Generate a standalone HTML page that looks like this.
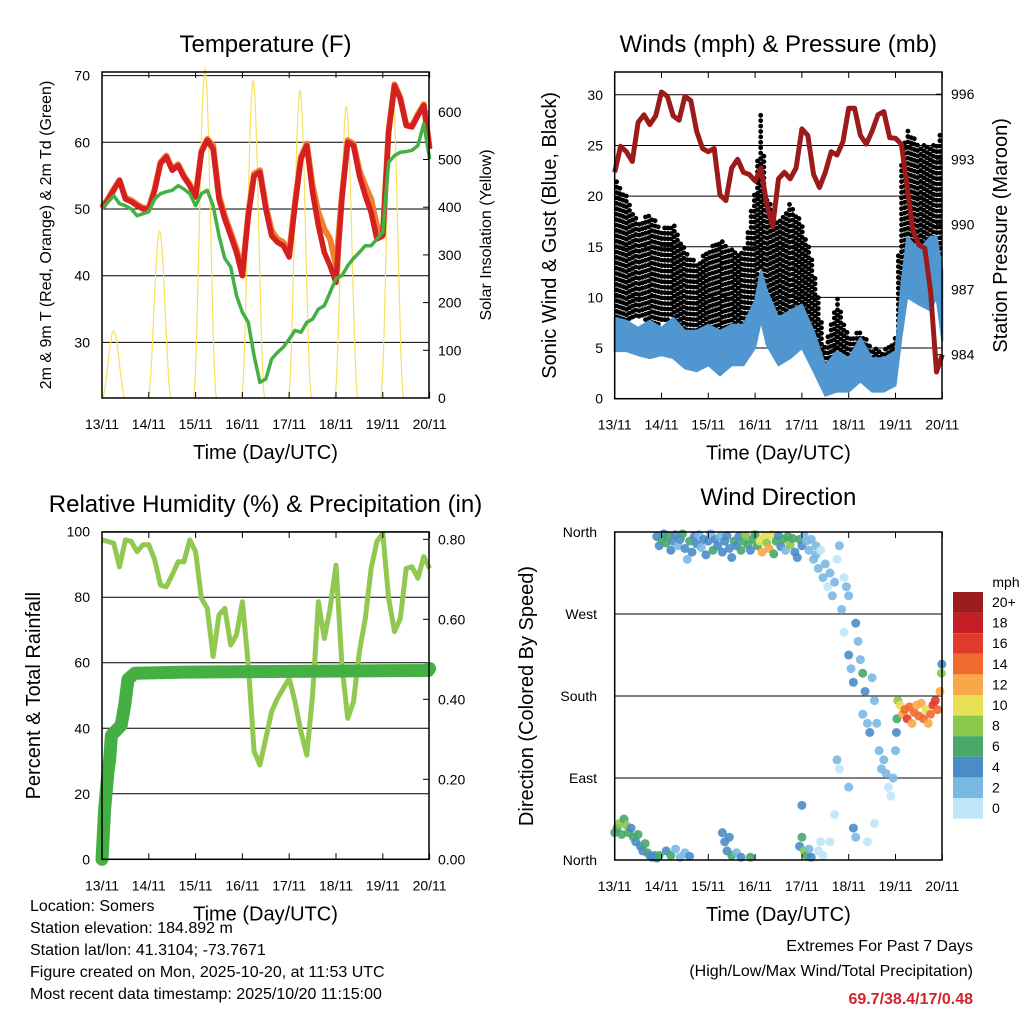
<!DOCTYPE html>
<html><head><meta charset="utf-8"><style>
body{margin:0;background:#fff;}
svg{display:block;font-family:"Liberation Sans",sans-serif;}
</style></head><body>
<svg id="c" width="1024" height="1024" viewBox="0 0 1024 1024">
<g id="g1"></g>
<g id="g2"></g>
<g id="g3"></g>
<g id="g4"></g>
<g font-size="16" fill="#000">
<text x="30" y="911">Location: Somers</text>
<text x="30" y="933">Station elevation: 184.892 m</text>
<text x="30" y="955">Station lat/lon: 41.3104; -73.7671</text>
<text x="30" y="977">Figure created on Mon, 2025-10-20, at 11:53 UTC</text>
<text x="30" y="999">Most recent data timestamp: 2025/10/20 11:15:00</text>
<text x="973" y="951" text-anchor="end">Extremes For Past 7 Days</text>
<text x="973" y="976" text-anchor="end">(High/Low/Max Wind/Total Precipitation)</text>
<text x="973" y="1004" text-anchor="end" font-weight="bold" fill="#d42228">69.7/38.4/17/0.48</text>
</g>
</svg>
<script>
// ---------- DATA ----------
const dayLabels=["13/11","14/11","15/11","16/11","17/11","18/11","19/11","20/11"];
const tempTicks=[30,40,50,60,70];
const solarTicks=[0,100,200,300,400,500,600];
const windTicks=[0,5,10,15,20,25,30];
const presTicks=[984,987,990,993,996];
const rhTicks=[0,20,40,60,80,100];
const rainTicks=["0.00","0.20","0.40","0.60","0.80"];
const dirNames=["North","East","South","West","North"];
const dirTickDeg=[0,90,180,270,360];
// 3-hourly series (index i -> day i/8)
const temp9m=[50.1,51.3,52.8,54.3,51.5,51.1,50.5,50,50,52.8,56.8,57.8,55.8,56.5,54.8,53.5,51.8,58.5,60.3,59,51.5,48.5,46,43.5,40,49,55,55.5,50,46,45,44.5,42.8,50.5,57.5,59.5,52.5,47.5,43.5,41.5,39,51.5,60,59.5,55,52,49.5,45.5,46,61.5,68.5,66.5,62.5,62.3,64,65.5,59];
const temp2m=[50.3,51.5,53,54.3,51.7,51.3,50.7,50.2,50.2,53,57,58,56,56.7,55,53.7,52,58.7,60.5,59.5,52,49,46.5,44,40.5,49.3,55.3,55.8,50.5,46.8,45.5,45,43.5,51,57.8,59.8,53.5,49.5,47,45.5,41.5,52,60.3,59.8,55.8,53.5,51.5,47.5,46.3,61.7,68.7,66.7,62.7,62.5,64.2,65.7,59.2];
const dewpt=[50.1,51,52,50.8,50.5,50,49,49.3,49.6,51.5,52.3,52.6,52.8,53.5,53,52.3,50.5,52.3,52.8,50.5,46,42.6,41.3,37,34.5,33,28,24,24.5,27.5,28.5,29.3,30.5,31.8,31.5,33,33.5,35,35.5,37.5,39.6,40,41.5,42.6,43.5,44.5,44.5,45.5,46.5,57,58,58.5,58.6,58.8,59.5,62.8,57.5];
const solarPeak=[140,350,690,665,645,610,655];
const solarNoon=[0.25,1.23,2.2,3.23,4.23,5.22,6.2];
const pressure=[992.4,993.6,993.35,992.9,994.7,995.05,994.6,995,996.1,995.9,995,994.8,995.9,995.7,994.3,993.5,993.35,993.5,991.35,991.1,992.6,993,992.4,992.3,992,992.6,990.9,989.9,992.1,992.4,992.1,992.6,994.4,994.1,992.3,991.7,992.4,993.35,993.2,993.8,995.35,995.35,994.1,993.7,994.3,995.05,995.2,994,993.97,993.7,991.7,989.7,989.05,988.9,986.9,983.2,984];
const windDays=[0,0.25,0.5,0.75,1,1.25,1.5,1.75,2,2.25,2.5,2.75,3,3.125,3.25,3.5,3.75,4,4.25,4.5,4.75,5,5.25,5.5,5.75,6,6.125,6.25,6.5,6.75,6.875,7];
const sustHi=[8,7.7,7,7.7,7,8,6.7,6.7,7.3,6.7,7.3,7.3,9.7,12.7,10.7,8,8.7,9.3,6.7,3.3,4.7,4,6,4,4,4.7,11.3,16,14.7,16,16,12.7];
const sustLo=[4.7,4.7,4.3,4,4.3,4,3,2.7,3.3,2.3,3.3,3.3,5,7.7,5.3,3.3,4,5,2.7,0.3,0.7,0.7,1.7,0.7,0.7,1.3,6,10,9.3,8.7,10,5.7];
const gustHi=[21.7,20,17.3,18.3,16.7,17.3,14.7,13.3,14.7,15.7,14.7,14.3,20.7,28.3,20,17.3,19.3,17.3,13.3,5,10,6,6.7,5,4.7,6,23.3,26.7,25,25,25,27.3];
const gustLo=[6.7,7.3,8,7.3,7.3,8,5,4.7,5,5,5,5.3,6.7,13.3,10,6.7,7.3,7.3,6.7,1.7,1.7,1.7,2.7,1.7,2,2.3,10,15,15,15,15,13.3];
const relHum=[97.5,97,96.5,89.3,97.5,97,93.9,96,96,91.4,83.7,83.2,86.8,90.8,90.8,97.5,93.9,79.7,76.6,61.9,74.6,76.6,65.4,68.5,78.6,59.3,32.9,28.8,36.9,45.1,49.1,52.2,55.2,48.1,39,31.8,50.2,78.6,67.4,76.6,89.8,59.3,43,48.1,63.4,73.5,88.8,97,99.5,79.7,69.5,73.5,88.8,89.3,85.8,92.4,88.8];
const rainDays=[0,0.057,0.128,0.164,0.2,0.41,0.485,0.556,0.7,1.77,6.97,7];
const rainTotal=[0,0.127,0.22,0.25,0.31,0.335,0.385,0.45,0.465,0.468,0.472,0.477];
const dirDay=[0.9,0.95,1.0,1.05,1.1,1.15,1.2,1.25,1.3,1.35,1.4,1.45,1.5,1.55,1.6,1.65,1.7,1.75,1.8,1.85,1.9,1.95,2.0,2.05,2.1,2.15,2.2,2.25,2.3,2.35,2.4,2.45,2.5,2.55,2.6,2.65,2.7,2.75,2.8,2.85,2.9,2.95,3.0,3.05,3.1,3.15,3.2,3.25,3.3,3.35,3.4,3.45,3.5,3.55,3.6,3.65,3.7,3.75,3.8,3.85,3.9,3.95,4.0,4.05,4.1,4.15,4.2,4.25,4.3,
4.3,4.35,4.4,4.45,4.5,4.55,4.6,4.65,4.7,4.75,4.8,4.9,4.95,5.0,
4.85,4.9,5.0,5.05,5.1,5.15,5.2,5.25,5.3,5.35,5.3,5.4,5.45,5.5,5.55,5.6,5.65,5.7,5.75,5.8,5.85,5.9,5.95,6.0,6.02,6.03,4.6,4.7,4.75,4.8,5.1,5.15,5.4,5.55,5.0,
6.05,6.1,6.15,6.2,6.25,6.3,6.35,6.4,6.45,6.5,6.55,6.6,6.65,6.7,6.75,6.8,6.85,6.9,6.95,6.98,6.99,
0.0,0.05,0.1,0.15,0.2,0.25,0.3,0.35,0.4,0.45,0.5,0.55,0.6,0.65,0.7,0.75,0.8,0.85,0.9,0.95,
1.1,1.2,1.3,1.4,1.5,1.6,2.3,2.35,2.4,2.45,2.5,2.6,2.7,2.9,3.95,4.0,4.05,4.1,4.15,4.2,4.0,4.35,4.4,4.45];
const dirDeg=[355,345,352,358,348,356,340,350,357,345,352,358,342,330,350,338,355,347,357,343,352,335,350,358,340,352,345,355,338,350,356,342,332,350,345,355,340,350,356,346,340,352,357,345,350,338,355,348,342,357,336,350,356,344,352,340,355,346,353,338,332,352,345,356,350,340,352,330,345,
335,320,340,310,325,300,315,290,305,330,345,310,300,290,
275,250,225,210,195,260,240,220,205,185,160,150,140,200,175,150,120,100,110,95,80,70,90,120,140,155,20,50,110,100,35,25,20,40,80,
175,170,160,165,155,168,150,162,170,158,172,155,165,150,160,170,175,165,185,205,215,
30,35,40,28,45,38,30,35,25,20,28,15,10,18,8,5,3,5,2,5,
10,5,12,3,8,4,30,20,10,25,5,8,3,3,15,25,10,5,12,3,60,10,20,5];
const dirSpeed=[5,4,6,4,7,6,4,5,4,3,4,6,4,3,6,5,4,4,3,3,5,4,4,3,6,4,4,3,4,5,4,4,4,6,4,5,6,7,8,6,5,6,7,6,10,12,11,9,13,11,7,6,4,4,6,3,7,8,7,4,4,6,4,3,2,2,2,2,2,
2,2,1,2,2,1,2,2,2,1,2,1,2,3,
2,1,4,3,4,4,2,3,6,4,2,3,4,3,2,2,3,2,2,2,1,1,2,2,4,6,1,0,2,1,4,2,0,1,2,
8,10,12,14,16,15,13,14,12,14,12,14,10,12,14,16,16,14,13,8,4,
6,7,8,6,7,8,6,5,6,5,6,5,4,6,6,4,5,4,4,6,
4,6,3,2,3,4,4,4,5,4,6,2,4,6,4,6,8,6,2,4,4,0,0,1];
const legendLabels=["20+","18","16","14","12","10","8","6","4","2","0"];
const legendColors=["#9b1b1e","#c41e25","#e03a2c","#f06a2e","#f8a848","#e8e054","#8cc84c","#48a868","#4a8cc8","#7ab8e4","#bfe6f8"];

// ---------- helpers ----------
const NS="http://www.w3.org/2000/svg";
function mk(parent,tag,attrs,name,txt){const e=document.createElementNS(NS,tag);for(const k in attrs)e.setAttribute(k,attrs[k]);


if(txt!==undefined)e.textContent=txt;parent.appendChild(e);return e;}
function path(pts){return pts.map((p,i)=>(i?"L":"M")+p[0].toFixed(1)+","+p[1].toFixed(1)).join("");}
function interp(xs,ys,x){for(let i=1;i<xs.length;i++){if(x<=xs[i]){const f=(x-xs[i-1])/(xs[i]-xs[i-1]);return ys[i-1]+f*(ys[i]-ys[i-1]);}}return ys[ys.length-1];}
function frame(g,x0,y0,x1,y1,tx,ylabelL,ylabelR,title,titleY,lx,rx,lsize,rsize){
  mk(g,"rect",{x:x0,y:y0,width:x1-x0,height:y1-y0,fill:"none",stroke:"#000","stroke-width":1.5},"plot-frame");
  dayLabels.forEach((l,i)=>{const x=tx(i);
    mk(g,"line",{x1:x,y1:y1,x2:x,y2:y1-6,stroke:"#000","stroke-width":1},"x-tick");
    mk(g,"line",{x1:x,y1:y0,x2:x,y2:y0+6,stroke:"#000","stroke-width":1},"x-tick-top");
    mk(g,"text",{x:x,y:y1+31,"text-anchor":"middle","font-size":14},"x-tick-label",l);});
  mk(g,"text",{x:(x0+x1)/2,y:y1+61,"text-anchor":"middle","font-size":20},"x-axis-title","Time (Day/UTC)");
  mk(g,"text",{x:(x0+x1)/2,y:titleY,"text-anchor":"middle","font-size":24},"panel-title",title);
  mk(g,"text",{x:lx,y:(y0+y1)/2,"text-anchor":"middle","font-size":lsize,transform:`rotate(-90 ${lx} ${(y0+y1)/2})`},"y-axis-title",ylabelL);
  if(ylabelR)mk(g,"text",{x:rx,y:(y0+y1)/2,"text-anchor":"middle","font-size":rsize,transform:`rotate(-90 ${rx} ${(y0+y1)/2})`},"y-axis-title-right",ylabelR);
}
function grid(g,x0,x1,y,label,lx){mk(g,"line",{x1:x0,y1:y,x2:x1,y2:y,stroke:"#000","stroke-width":1},"grid-line");
 mk(g,"text",{x:lx,y:y+5,"text-anchor":"end","font-size":14},"y-tick-label",label);}
function rtick(g,x1,y,label){mk(g,"line",{x1:x1,y1:y,x2:x1-6,y2:y,stroke:"#000","stroke-width":1},"y-tick-right");
 mk(g,"text",{x:x1+9,y:y+5,"font-size":14},"y-tick-label-right",label);}

// ---------- Panel 1 ----------
{const g=document.getElementById("g1");
 const tx=d=>102+46.8*d, ty=v=>209-(v-50)*6.67, sy=w=>398-w*0.477;
 tempTicks.forEach(v=>grid(g,102,429,ty(v),v,90));
 solarTicks.forEach(v=>rtick(g,429,sy(v),v));
 solarPeak.forEach((pk,i)=>{const pts=[];for(let k=0;k<=40;k++){const t=solarNoon[i]-0.25+k*0.0125;const f=Math.cos(Math.PI*(t-solarNoon[i])/0.5);pts.push([tx(t),sy(pk*f*f)]);}
   mk(g,"path",{d:path(pts),fill:"none",stroke:"#f8e060","stroke-width":1.2},"solar-insolation-line");});
 const p=a=>path(a.map((v,i)=>[tx(i/8),ty(v)]));
 mk(g,"path",{d:p(temp2m),fill:"none",stroke:"#f08030","stroke-width":6,"stroke-linejoin":"round"},"temp-2m-line");
 mk(g,"path",{d:p(temp9m),fill:"none",stroke:"#d42020","stroke-width":5.5,"stroke-linejoin":"round"},"temp-9m-line");
 mk(g,"path",{d:p(dewpt),fill:"none",stroke:"#44b044","stroke-width":3.5,"stroke-linejoin":"round"},"dewpoint-line");
 frame(g,102,72,429,398,tx,"2m & 9m T (Red, Orange) & 2m Td (Green)","Solar Insolation (Yellow)","Temperature (F)",52,51,491,16,16);}

// ---------- Panel 2 ----------
{const g=document.getElementById("g2");
 const tx=d=>614.7+46.8*d, wy=w=>398.7-10.13*w, py=p=>159.3-(p-993)*21.7;
 windTicks.forEach(v=>grid(g,614.7,942,wy(v),v,603));
 presTicks.forEach(v=>rtick(g,942,py(v),v));
 // gust observations drawn as a dotted lattice between low/high gust envelopes
 let dd="";let col=0;
 for(let x=tx(0)+2;x<=tx(7)-1;x+=3.2,col++){const d=(x-614.7)/46.8;
   const yt=wy(interp(windDays,gustHi,d)), yb=wy(interp(windDays,gustLo,d));
   for(let y=yt+((col%3)*1.8);y<=yb;y+=5.4){dd+=`M${(x-2.4).toFixed(1)},${y.toFixed(1)}a2.4,2.4 0 1,0 4.8,0a2.4,2.4 0 1,0 -4.8,0`;}}
 mk(g,"path",{d:dd,fill:"#000"},"gust-points");
 const band=(hi,lo)=>path(windDays.map((d,i)=>[tx(d),wy(hi[i])]).concat(windDays.slice().reverse().map((d,j)=>{const i=windDays.length-1-j;return [tx(d),wy(lo[i])];})))+"Z";
 mk(g,"path",{d:band(sustHi,sustLo),fill:"#5096d0",stroke:"#5096d0","stroke-width":2,"stroke-linejoin":"round"},"sustained-wind-band");
 mk(g,"path",{d:path(pressure.map((v,i)=>[tx(i/8),py(v)])),fill:"none",stroke:"#9b1b1b","stroke-width":5,"stroke-linejoin":"round"},"pressure-line");
 frame(g,614.7,72,942,398.7,tx,"Sonic Wind & Gust (Blue, Black)","Station Pressure (Maroon)","Winds (mph) & Pressure (mb)",52,556,1007,20,20);}

// ---------- Panel 3 ----------
{const g=document.getElementById("g3");
 const tx=d=>102+46.8*d, ry=v=>859.3-3.276*v, iy=v=>859.3-v*400;
 rhTicks.forEach(v=>grid(g,102,429,ry(v),v,90));
 rainTicks.forEach(v=>rtick(g,429,iy(+v),v));
 mk(g,"path",{d:path(relHum.map((v,i)=>[tx(i/8),ry(v)])),fill:"none",stroke:"#90c850","stroke-width":5,"stroke-linejoin":"round"},"relative-humidity-line");
 mk(g,"path",{d:path(rainDays.map((d,i)=>[tx(d),iy(rainTotal[i])])),fill:"none",stroke:"#44b044","stroke-width":13,"stroke-linejoin":"round","stroke-linecap":"round"},"precipitation-line");
 frame(g,102,532,429,859.3,tx,"Percent & Total Rainfall",null,"Relative Humidity (%) & Precipitation (in)",512,40,0,20,20);}

// ---------- Panel 4 ----------
{const g=document.getElementById("g4");
 const tx=d=>614.7+46.8*d, dy=v=>860-v*0.911;
 dirTickDeg.forEach((v,i)=>grid(g,614.7,942,dy(v),dirNames[i],597));
 const col=s=>legendColors[10-Math.min(10,Math.floor(s/2))];
 dirDay.forEach((d,i)=>{mk(g,"circle",{cx:tx(d),cy:dy(dirDeg[i]),r:4.5,fill:col(dirSpeed[i]),"fill-opacity":0.9},"direction-point");});
 frame(g,614.7,532,942,860,tx,"Direction (Colored By Speed)",null,"Wind Direction",505,533,0,20,20);
 mk(g,"text",{x:1006,y:587,"text-anchor":"middle","font-size":14},"legend-title","mph");
 legendLabels.forEach((l,i)=>{const y=592+i*20.6;
   mk(g,"rect",{x:953,y:y,width:30,height:20.6,fill:legendColors[i]},"legend-swatch");
   mk(g,"text",{x:992,y:y+15,"font-size":14},"legend-label",l);});}
</script>
</body></html>
